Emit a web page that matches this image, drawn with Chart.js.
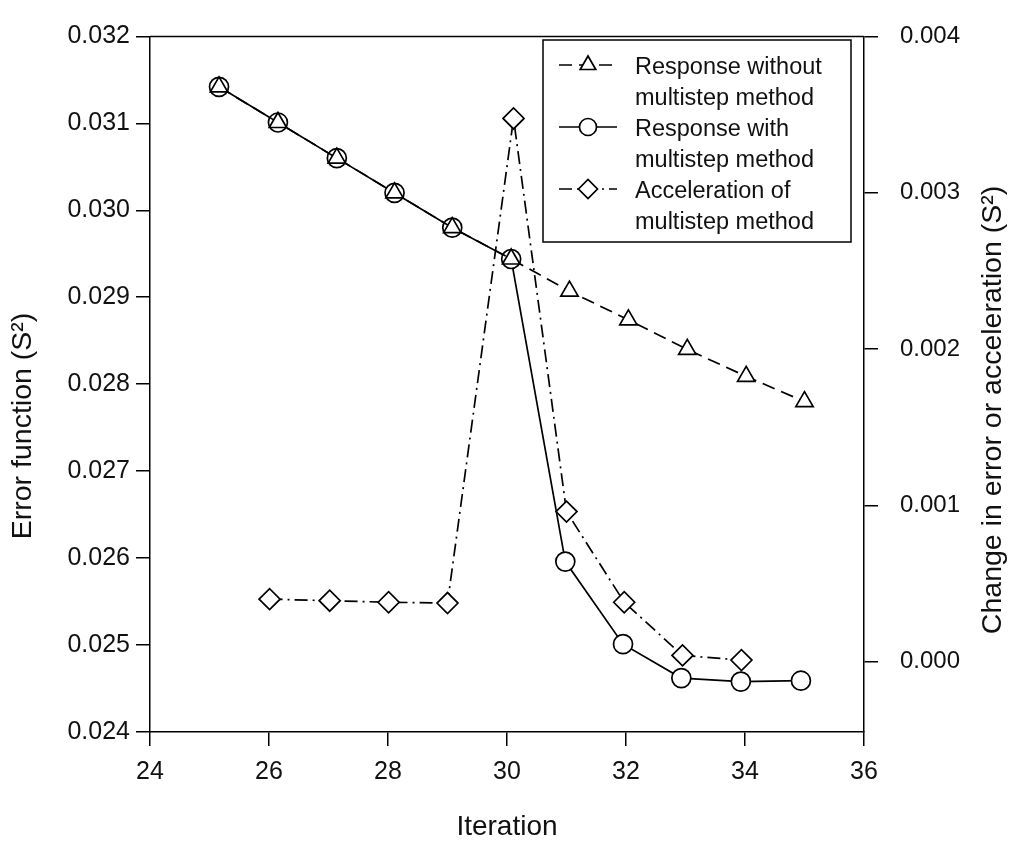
<!DOCTYPE html>
<html>
<head>
<meta charset="utf-8">
<script src="https://cdn.jsdelivr.net/npm/chart.js@4.4.0/dist/chart.umd.min.js"></script>
<style>
  html, body { margin: 0; padding: 0; background: #fff; }
  #wrap { width: 1024px; height: 846px; }
</style>
</head>
<body>
<div id="wrap"><canvas id="chart"></canvas></div>
<script>
// iteration numbers and error function, plain descent
const iterWithout = [25.16, 26.15, 27.14, 28.11, 29.08, 30.07, 31.05, 32.04, 33.03, 34.02, 35.0];
const errWithout = [0.03142, 0.03101, 0.0306, 0.0302, 0.0298, 0.02944, 0.02907, 0.02874, 0.0284, 0.02809, 0.0278];

// same run, multistep method kicks in after iteration 30
const iterWith = [25.16, 26.15, 27.14, 28.11, 29.08, 30.07, 30.98, 31.95, 32.93, 33.93, 34.94];
const errWith = [0.03142, 0.03101, 0.0306, 0.0302, 0.0298, 0.02944, 0.02596, 0.02501, 0.02462, 0.02458, 0.02459];

// acceleration of the multistep method (right axis)
const iterAccel = [26.01, 27.02, 28.01, 29.0, 30.11, 31.0, 31.97, 32.95, 33.94];
const accel = [0.0004, 0.00039, 0.00038, 0.000375, 0.003475, 0.00096, 0.00038, 0.00004, 0.00001];

const xTicks = [24, 26, 28, 30, 32, 34, 36];
const leftTicks = [0.024, 0.025, 0.026, 0.027, 0.028, 0.029, 0.030, 0.031, 0.032];
const rightTicks = [0.000, 0.001, 0.002, 0.003, 0.004];

const legendLines = [
  ['Response without', 'multistep method'],
  ['Response with', 'multistep method'],
  ['Acceleration of', 'multistep method']
];
const leftTitle = 'Error function (S\u00B2)';
const rightTitle = 'Change in error or acceleration (S\u00B2)';

const FONT = "'Liberation Sans', Arial, Helvetica, sans-serif";
const INK = '#111';

function pts(xs, ys) {
  return xs.map((x, i) => ({ x: x, y: ys[i] }));
}

// top edge of the plot box
const frameTop = {
  id: 'frameTop',
  beforeDatasetsDraw(chart) {
    const { ctx, chartArea: a } = chart;
    ctx.save();
    ctx.strokeStyle = '#000';
    ctx.lineWidth = 1.5;
    ctx.beginPath();
    ctx.moveTo(a.left, a.top);
    ctx.lineTo(a.right, a.top);
    ctx.stroke();
    ctx.restore();
  }
};

// rotated titles for both y axes
const sideTitles = {
  id: 'sideTitles',
  afterDraw(chart) {
    const ctx = chart.ctx;
    ctx.save();
    ctx.fillStyle = INK;
    ctx.font = '28.5px ' + FONT;
    ctx.textAlign = 'center';
    ctx.textBaseline = 'middle';
    [[leftTitle, 23, 426], [rightTitle, 993, 410]].forEach(([t, x, y]) => {
      ctx.save();
      ctx.translate(x, y);
      ctx.rotate(-Math.PI / 2);
      ctx.fillText(t, 0, 0);
      ctx.restore();
    });
    ctx.restore();
  }
};

// boxed legend inside the plot, top right
const boxLegend = {
  id: 'boxLegend',
  afterDatasetsDraw(chart) {
    const ctx = chart.ctx;
    const left = 543, top = 40, w = 308, h = 202;
    ctx.save();
    ctx.fillStyle = '#fff';
    ctx.fillRect(left, top, w, h);
    ctx.strokeStyle = '#000';
    ctx.lineWidth = 1.5;
    ctx.strokeRect(left, top, w, h);

    chart.data.datasets.forEach((ds, i) => {
      const y = top + 25 + i * 62;
      ctx.strokeStyle = '#000';
      ctx.lineWidth = ds.borderWidth;
      ctx.setLineDash(ds.borderDash || []);
      ctx.beginPath();
      ctx.moveTo(left + 16, y);
      ctx.lineTo(left + 74, y);
      ctx.stroke();
      ctx.setLineDash([]);
      ctx.fillStyle = '#fff';
      Chart.helpers.drawPoint(ctx, {
        pointStyle: ds.pointStyle,
        radius: ds.pointRadius - 1,
        borderWidth: ds.pointBorderWidth,
        rotation: 0
      }, left + 45, y);

      ctx.fillStyle = INK;
      ctx.font = '23.5px ' + FONT;
      ctx.textAlign = 'left';
      ctx.textBaseline = 'middle';
      legendLines[i].forEach((line, j) => {
        ctx.fillText(line, left + 92, y + 3 + j * 31);
      });
    });
    ctx.restore();
  }
};

const axisGrid = { drawOnChartArea: false, drawTicks: true, tickLength: 14, color: '#000', lineWidth: 1.5 };
const axisBorder = { display: true, color: '#000', width: 1.5 };

new Chart(document.getElementById('chart'), {
  type: 'line',
  data: {
    datasets: [{
      label: legendLines[0].join(' '),
      data: pts(iterWithout, errWithout),
      yAxisID: 'y',
      borderColor: '#000',
      borderWidth: 1.7,
      borderDash: [13, 7],
      pointStyle: 'triangle',
      pointRadius: 10,
      pointBackgroundColor: '#fff',
      pointBorderColor: '#000',
      pointBorderWidth: 1.7,
      tension: 0,
      fill: false
    }, {
      label: legendLines[1].join(' '),
      data: pts(iterWith, errWith),
      yAxisID: 'y',
      borderColor: '#000',
      borderWidth: 1.7,
      borderDash: [],
      pointStyle: 'circle',
      pointRadius: 9.5,
      pointBackgroundColor: '#fff',
      pointBorderColor: '#000',
      pointBorderWidth: 1.7,
      tension: 0,
      fill: false
    }, {
      label: legendLines[2].join(' '),
      data: pts(iterAccel, accel),
      yAxisID: 'yRight',
      borderColor: '#000',
      borderWidth: 1.7,
      borderDash: [13, 5, 2, 5],
      pointStyle: 'rectRot',
      pointRadius: 10.5,
      pointBackgroundColor: '#fff',
      pointBorderColor: '#000',
      pointBorderWidth: 1.7,
      tension: 0,
      fill: false
    }]
  },
  options: {
    responsive: true,
    maintainAspectRatio: false,
    animation: false,
    layout: { padding: { top: 24, left: 0, right: 0, bottom: 0 } },
    plugins: {
      legend: { display: false },
      tooltip: { enabled: false }
    },
    scales: {
      x: {
        type: 'linear',
        position: 'bottom',
        min: 24,
        max: 36,
        afterBuildTicks: s => { s.ticks = xTicks.map(v => ({ value: v })); },
        afterFit: s => { s.height = 846 - 732; },
        grid: axisGrid,
        border: axisBorder,
        ticks: {
          font: { family: FONT, size: 25 },
          color: INK,
          padding: 11,
          maxRotation: 0,
          callback: v => String(v)
        },
        title: {
          display: true,
          text: 'Iteration',
          font: { family: FONT, size: 28 },
          color: INK,
          padding: { top: 0, bottom: 2 }
        }
      },
      y: {
        type: 'linear',
        position: 'left',
        min: 0.024,
        max: 0.032,
        afterBuildTicks: s => { s.ticks = leftTicks.map(v => ({ value: v })); },
        afterFit: s => { s.width = 150; },
        grid: axisGrid,
        border: axisBorder,
        ticks: {
          font: { family: FONT, size: 25 },
          color: INK,
          padding: 6,
          callback: v => v.toFixed(3)
        }
      },
      yRight: {
        type: 'linear',
        position: 'right',
        min: -0.00045,
        max: 0.004,
        afterBuildTicks: s => { s.ticks = rightTicks.map(v => ({ value: v })); },
        afterFit: s => { s.width = 1024 - 864; },
        grid: axisGrid,
        border: axisBorder,
        ticks: {
          font: { family: FONT, size: 24 },
          color: INK,
          padding: 22,
          callback: v => Math.abs(v).toFixed(3)
        }
      }
    }
  },
  plugins: [frameTop, boxLegend, sideTitles]
});
</script>
</body>
</html>
